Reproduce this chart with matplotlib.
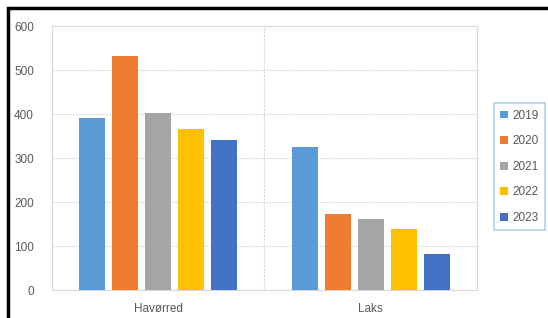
import matplotlib.pyplot as plt
import numpy as np
from matplotlib.patches import Rectangle

# ---------------------------------------------------------------------------
# Data
# ---------------------------------------------------------------------------
categories = ["Havørred", "Laks"]
years = ["2019", "2020", "2021", "2022", "2023"]
values = {
    "2019": [390, 325],
    "2020": [531, 172],
    "2021": [402, 161],
    "2022": [365, 138],
    "2023": [342, 81],
}
colors = ["#5B9BD5", "#ED7D31", "#A5A5A5", "#FFC000", "#4472C4"]
yticks = [0, 100, 200, 300, 400, 500, 600]

plt.rcParams["font.family"] = ["Liberation Sans", "DejaVu Sans"]
TXT = "#595959"
GRID = "#d9d9d9"

fig = plt.figure(figsize=(5.48, 3.18), dpi=100)
ax = fig.add_axes([0.0949, 0.088, 0.7755, 0.830])

x = np.arange(len(categories))
pitch = 0.155
width = 0.122
for i, (yr, col) in enumerate(zip(years, colors)):
    ax.bar(x + (i - 2) * pitch, values[yr], width=width, color=col,
           label=yr, zorder=3)

ax.set_xlim(-0.5, len(categories) - 0.5)
ax.set_ylim(0, 600)
ax.set_yticks(yticks)
ax.set_xticks(x)
ax.set_xticklabels(categories)
ax.tick_params(length=0, colors=TXT, labelsize=8.5)
ax.tick_params(axis="y", pad=13)
ax.tick_params(axis="x", pad=9)

ax.grid(axis="y", color=GRID, linestyle=(0, (2, 1)), linewidth=0.8, zorder=0)
ax.axvline(0.5, color=GRID, linestyle=(0, (2, 1)), linewidth=0.8, zorder=0)
for s in ax.spines.values():
    s.set_color(GRID)
    s.set_linewidth(0.8)

leg = ax.legend(loc="upper left", bbox_to_anchor=(1.04, 0.708),
                borderaxespad=0, frameon=True, fancybox=False, fontsize=8.5,
                handlelength=0.65, handleheight=0.65, handletextpad=0.35,
                labelspacing=1.15, borderpad=0.55, labelcolor=TXT)
leg.get_frame().set_edgecolor("#9DC3E6")
leg.get_frame().set_linewidth(1.2)

# outer black frame (partly cut off at right and bottom)
fig.patches.append(Rectangle((8 / 548, -0.1), 1.2, (318 - 8) / 318 + 0.1,
                             transform=fig.transFigure, fill=False,
                             edgecolor="black", linewidth=2.5))

fig.savefig("out.png", dpi=100)
